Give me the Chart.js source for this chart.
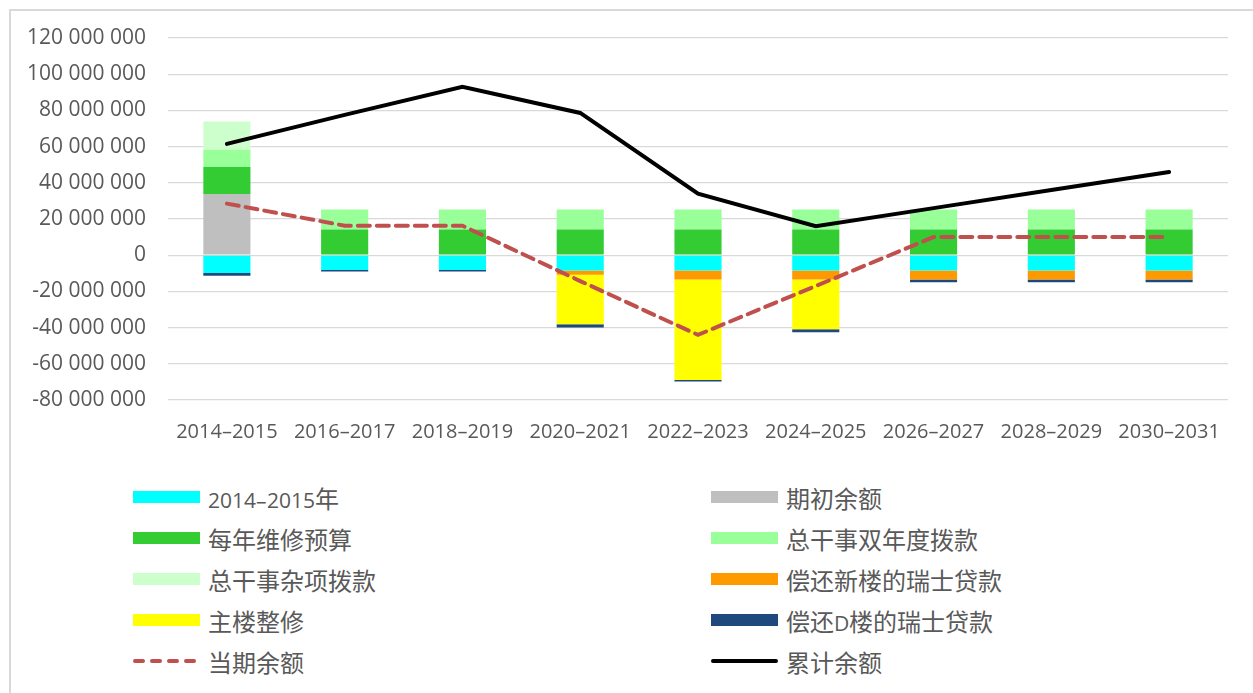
<!DOCTYPE html>
<html>
<head>
<meta charset="utf-8">
<script src="https://cdn.jsdelivr.net/npm/chart.js@4"></script>
<style>
  @font-face {
    font-family: "LegendLatin";
    src: local("Open Sans"), local("Open Sans Regular"), local("OpenSans-Regular");
    unicode-range: U+0000-00FF, U+2013;
    size-adjust: 88%;
  }
  html, body { margin: 0; padding: 0; background: #fff; }
  body { width: 1253px; height: 693px; position: relative; overflow: hidden; }
  #frame {
    position: absolute; left: 9px; top: 9px; width: 1400px; height: 900px;
    border: 2px solid #d9d9d9; box-sizing: border-box;
  }
  #chart { position: absolute; left: 0; top: 0; }
  .item {
    position: absolute; height: 30px; display: flex; align-items: center;
    font-family: "LegendLatin", "Noto Sans CJK SC", sans-serif; font-size: 24px; color: #595959;
    white-space: nowrap;
  }
  .swatch { width: 67px; height: 12px; margin-right: 8px; flex: none; }
</style>
</head>
<body>
<div id="frame"></div>
<canvas id="chart" width="1253" height="460"></canvas>
<div id="legend"></div>
<script>
// Categories (biennia)
const categories = ["2014–2015", "2016–2017", "2018–2019", "2020–2021", "2022–2023",
                    "2024–2025", "2026–2027", "2028–2029", "2030–2031"];

// Series values, in millions
const biennium2014 = [-9.8, -8.2, -8.2, -8.4, -8.4, -8.4, -8.4, -8.4, -8.4];
const openingBalance = [33.8, 0, 0, 0, 0, 0, 0, 0, 0];
const annualMaintenance = [14.9, 14.2, 14.2, 14.2, 14.2, 14.2, 14.2, 14.2, 14.2];
const dgBiennialAlloc = [9.5, 11, 11, 11, 11, 11, 11, 11, 11];
const dgMiscAlloc = [15.6, 0, 0, 0, 0, 0, 0, 0, 0];
const newBuildingLoan = [0, 0, 0, -2.4, -5, -5, -5, -5, -5];
const mainBuildingReno = [0, 0, 0, -27.4, -55.6, -27.5, 0, 0, 0];
const buildingDLoan = [-1.5, -0.8, -0.8, -1.7, -0.8, -1.6, -1.6, -1.6, -1.6];
const periodBalance = [28.5, 16.3, 16.3, -14.3, -44, -17, 10, 10, 10];
const cumulativeBalance = [61.5, 77.5, 93, 78.6, 34, 16, 26, 36, 46];

// Y axis ticks
const yMin = -80000000;
const yMax = 120000000;
const yStep = 20000000;

const M = 1000000;
const toUnits = arr => arr.map(v => v * M);

const textColor = "#595959";
const gridColor = "#d9d9d9";

function bar(label, data, color) {
  return { type: "bar", label: label, data: toUnits(data), backgroundColor: color,
           stack: "flows", order: 1 };
}

const datasets = [
  bar("2014–2015年", biennium2014, "#00ffff"),
  bar("期初余额", openingBalance, "#bfbfbf"),
  bar("每年维修预算", annualMaintenance, "#33cc33"),
  bar("总干事双年度拨款", dgBiennialAlloc, "#99ff99"),
  bar("总干事杂项拨款", dgMiscAlloc, "#ccffcc"),
  bar("偿还新楼的瑞士贷款", newBuildingLoan, "#ff9900"),
  bar("主楼整修", mainBuildingReno, "#ffff00"),
  bar("偿还D楼的瑞士贷款", buildingDLoan, "#1f497d"),
  {
    type: "line", label: "当期余额", data: toUnits(periodBalance), stack: "period", order: 0,
    borderColor: "#c0504d", borderWidth: 4, borderDash: [12, 7], borderCapStyle: "round",
    pointRadius: 0, tension: 0, fill: false
  },
  {
    type: "line", label: "累计余额", data: toUnits(cumulativeBalance), stack: "cumulative", order: 0,
    borderColor: "#000000", borderWidth: 4, borderCapStyle: "round",
    pointRadius: 0, tension: 0, fill: false
  }
];

function formatTick(v) {
  if (v === 0) return "0";
  const s = Math.abs(v).toLocaleString("en-US").replace(/,/g, " ");
  return (v < 0 ? "-" : "") + s;
}

new Chart(document.getElementById("chart").getContext("2d"), {
  data: { labels: categories, datasets: datasets },
  options: {
    responsive: false,
    animation: false,
    layout: { padding: { top: 38, right: 25, bottom: 0, left: 0 } },
    plugins: { legend: { display: false }, tooltip: { enabled: false } },
    scales: {
      x: {
        stacked: true,
        grid: { display: false, drawTicks: false },
        border: { display: false },
        ticks: { color: textColor, font: { family: "Open Sans", size: 20 }, padding: 20, maxRotation: 0 },
        afterFit: s => { s.height = 60; }
      },
      y: {
        stacked: true,
        min: yMin, max: yMax,
        grid: { color: gridColor, lineWidth: 1.3, drawTicks: false },
        border: { display: false },
        ticks: { stepSize: yStep, color: textColor, font: { family: "Open Sans", size: 21 },
                 padding: 22, callback: formatTick },
        afterFit: s => { s.width = 168; }
      }
    },
    datasets: { bar: { barPercentage: 1, categoryPercentage: 0.4 } }
  }
});

// Legend, two columns, in dataset order
const legend = document.getElementById("legend");
const colX = [133, 711];
const rowY = 497;
const rowGap = 41;
datasets.forEach((ds, i) => {
  const item = document.createElement("div");
  item.className = "item";
  item.style.left = colX[i % 2] + "px";
  item.style.top = (rowY + Math.floor(i / 2) * rowGap - 15) + "px";

  let swatch;
  if (ds.type === "bar") {
    swatch = document.createElement("div");
    swatch.className = "swatch";
    swatch.style.background = ds.backgroundColor;
  } else {
    swatch = document.createElementNS("http://www.w3.org/2000/svg", "svg");
    swatch.setAttribute("class", "swatch");
    swatch.setAttribute("width", "67");
    swatch.setAttribute("height", "12");
    const ln = document.createElementNS("http://www.w3.org/2000/svg", "line");
    ln.setAttribute("x1", "2"); ln.setAttribute("x2", "65");
    ln.setAttribute("y1", "6"); ln.setAttribute("y2", "6");
    ln.setAttribute("stroke", ds.borderColor);
    ln.setAttribute("stroke-width", "4");
    ln.setAttribute("stroke-linecap", "round");
    if (ds.borderDash) ln.setAttribute("stroke-dasharray", "8 9");
    swatch.appendChild(ln);
  }
  const text = document.createElement("span");
  text.textContent = ds.label;
  item.appendChild(swatch);
  item.appendChild(text);
  legend.appendChild(item);
});
</script>
</body>
</html>
